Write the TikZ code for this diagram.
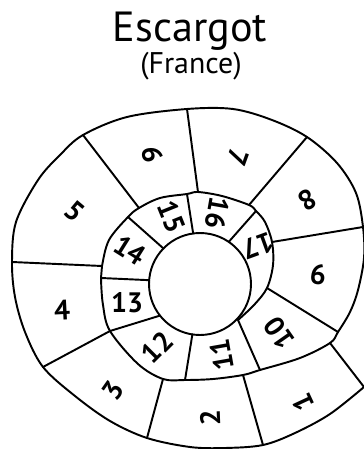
\documentclass[tikz,border=0pt]{standalone}
\usepackage{fontspec}
\setmainfont{PT Sans}
\usetikzlibrary{calc}

\begin{document}
\begin{tikzpicture}[
  x=0.02cm, y=-0.02cm,
  wall/.style={line width=1.1pt, line join=round, line cap=round},
  cell/.style={font=\fontsize{16}{18}\selectfont\bfseries, inner sep=0pt},
  title/.style={font=\fontsize{24}{28}\selectfont, anchor=base},
  country/.style={font=\fontsize{17}{20}\selectfont, anchor=base}
]
\useasboundingbox (0,0) rectangle (364,449);

\node[title] (ttl) at (190,42) {Escargot};
\node[country] (ctry) at (191,74) {(France)};

% centre of the snail
\coordinate (c) at (200,284);
\draw[wall] (c) circle[radius=1.02cm];

% points where the cross lines meet the spiral
\coordinate (s1o) at (364,387);   \coordinate (s1i) at (330,343);
\coordinate (d12o) at (263,445);  \coordinate (d12i) at (243,375);
\coordinate (d23o) at (147,438);  \coordinate (d23i) at (163,379);
\coordinate (d34o) at (43,367);   \coordinate (d34i) at (110,331);
\coordinate (d45o) at (12,262);   \coordinate (d45i) at (102,266);
\coordinate (d56o) at (83,135);   \coordinate (d56i) at (139,208);
\coordinate (d67o) at (187,109);  \coordinate (d67i) at (198,192);
\coordinate (d78o) at (307,137);  \coordinate (d78i) at (249,205);
\coordinate (d89o) at (363,227);  \coordinate (d89i) at (272,242);
\coordinate (d910o) at (338,332); \coordinate (d910i) at (267,288);
\coordinate (d1011o) at (260,370); \coordinate (d1011i) at (238,320);
\coordinate (d1112o) at (185,380);
\coordinate (d1314o) at (101,278);
\coordinate (d1415o) at (128,217);
\coordinate (d1516o) at (187,194);
\coordinate (d1617o) at (256,211);

% the spiral
\draw[wall] plot[smooth, tension=0.55] coordinates {
  (s1o) (330,414) (295,433) (d12o) (225,448) (190,447) (d23o) (110,421)
  (75,396) (d34o) (25,332) (15,297) (d45o) (16,222) (38,180) (60,155)
  (d56o) (127,117) (d67o) (233,109) (272,120) (d78o) (337,163) (356,193)
  (d89o) (364,258) (358,290) (350,312) (d910o) (s1i) (300,358) (d1011o)
  (d12i) (213,379) (d1112o) (d23i) (138,364) (d34i) (103,305) (d1314o)
  (d45i) (109,240) (d1415o) (d56i) (160,198) (d1516o) (d67i) (222,196)
  (d78i) (d1617o) (265,222) (d89i) (273,265) (d910i) (254,305) (d1011i)};

% cross lines of the outer turn
\foreach \a/\b in {s1i/s1o, d12i/d12o, d23i/d23o, d34i/d34o, d45i/d45o,
  d56i/d56o, d67i/d67o, d78i/d78o, d89i/d89o, d910i/d910o, d1011i/d1011o}
  \draw[wall] (\a) -- (\b);

% cross lines of the inner turn
\foreach \ang/\b in {98.6/d1112o, 141.7/d34i, 184.3/d1314o, 224.2/d1415o,
  262.3/d1516o, 304.3/d1617o}
  \draw[wall] ($(c)+(\ang:51)$) -- (\b);

% numbers
\foreach \n/\p/\r in {1/{303,403}/115, 2/{210,418}/92, 3/{113,390}/55,
  4/{62,310}/3, 5/{75,211}/-40, 6/{153,155}/-80, 7/{238,157}/-110,
  8/{308,200}/-150, 9/{318,275}/175, 10/{279,333}/125, 11/{222,355}/100,
  12/{157,347}/45, 13/{127,303}/0, 14/{130,250}/-32, 15/{172,217}/-68,
  16/{217,213}/-100, 17/{258,246}/-160}
  \node[cell, rotate=\r] (n\n) at (\p) {\n};
\end{tikzpicture}
\end{document}
